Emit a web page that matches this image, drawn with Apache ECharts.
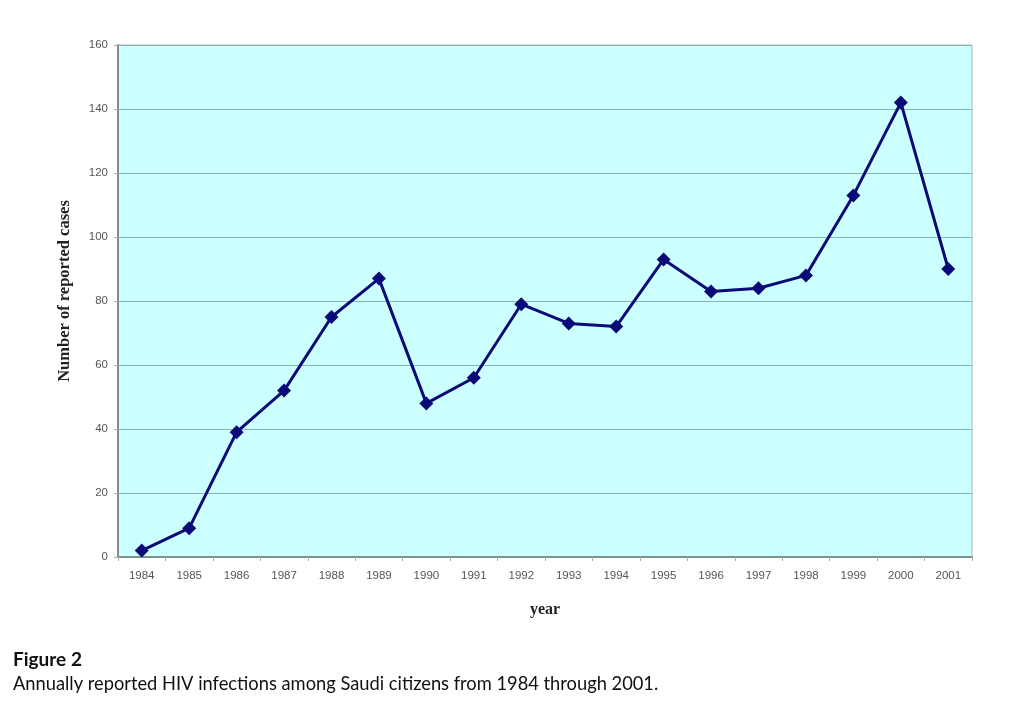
<!DOCTYPE html>
<html><head><meta charset="utf-8">
<script src="https://cdn.jsdelivr.net/npm/echarts@6/dist/echarts.min.js"></script>
<style>html,body{margin:0;padding:0;background:#fff}#c{width:1024px;height:704px}</style>
</head><body><div id="c"></div>
<script>
const years = ['1984','1985','1986','1987','1988','1989','1990','1991','1992','1993','1994','1995','1996','1997','1998','1999','2000','2001'];
const cases = [2, 9, 39, 52, 75, 87, 48, 56, 79, 73, 72, 93, 83, 84, 88, 113, 142, 90];
const yTicks = [0, 20, 40, 60, 80, 100, 120, 140, 160];
const captionTitle = 'Figure 2';
const captionText = 'Annually reported HIV infections among Saudi citizens from 1984 through 2001.';

const chart = echarts.init(document.getElementById('c'), null, {renderer: 'canvas'});
chart.setOption({
  animation: false,
  backgroundColor: '#fff',
  grid: {left: 118, top: 45, width: 854, height: 512, show: true, backgroundColor: '#ccffff', borderColor: '#a9b8b8', borderWidth: 1},
  xAxis: {
    type: 'category', data: years, boundaryGap: true,
    name: 'year', nameLocation: 'middle', nameGap: 45,
    nameTextStyle: {fontFamily: 'Liberation Serif', fontWeight: 'bold', fontSize: 16, color: '#222'},
    axisLine: {lineStyle: {color: '#7f9090', width: 2}},
    axisTick: {show: true, alignWithLabel: false, length: 4, lineStyle: {color: '#aaa'}},
    axisLabel: {color: '#555', fontFamily: 'Liberation Sans', fontSize: 11.5, margin: 13}
  },
  yAxis: {
    type: 'value', min: 0, max: 160, interval: 20,
    name: 'Number of reported cases', nameLocation: 'middle', nameGap: 45, nameRotate: 90,
    nameTextStyle: {fontFamily: 'Liberation Serif', fontWeight: 'bold', fontSize: 16.5, color: '#222', padding: [0, 0, 0, 20]},
    axisLine: {show: true, lineStyle: {color: '#7f9090', width: 2}},
    axisTick: {show: true, length: 4, lineStyle: {color: '#aaa'}},
    axisLabel: {color: '#555', fontFamily: 'Liberation Sans', fontSize: 11.5, margin: 10,
      formatter: v => yTicks.includes(v) ? String(v) : ''},
    splitLine: {show: true, lineStyle: {color: '#8fb3b3', width: 1}}
  },
  series: [{
    type: 'line', data: cases,
    lineStyle: {color: '#0a0a78', width: 3},
    itemStyle: {color: '#0a0a78'},
    symbol: 'diamond', symbolSize: 14, showSymbol: true
  }],
  graphic: [
    {type: 'text', left: 13, top: 650, style: {text: captionTitle, font: 'bold 19px Lato', fill: '#111'}},
    {type: 'text', left: 13, top: 675, style: {text: captionText, font: '18.3px Lato', fill: '#111'}}
  ]
});
</script></body></html>
